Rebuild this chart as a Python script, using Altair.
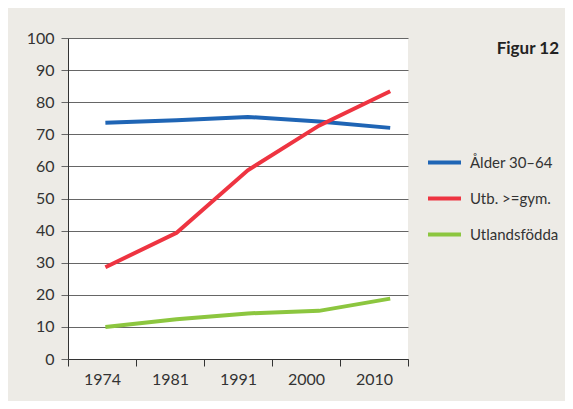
import altair as alt
import pandas as pd

years = ["1974", "1981", "1991", "2000", "2010"]
series_names = ["Ålder 30–64", "Utb. >=gym.", "Utlandsfödda"]
alder = [73.6, 74.4, 75.4, 74.0, 72.0]
utb = [28.6, 39.3, 58.8, 72.7, 83.4]
utl = [10.0, 12.4, 14.2, 15.0, 18.8]
colors = ["#1F65B5", "#EE3441", "#8CC63F"]
y_ticks = list(range(0, 101, 10))

rows = []
for name, vals in zip(series_names, [alder, utb, utl]):
    for i, (yr, v) in enumerate(zip(years, vals)):
        rows.append({"year": yr, "idx": i, "series": name, "value": v})
df = pd.DataFrame(rows)

FONT = "Lato"

axis_layer = alt.Chart(pd.DataFrame({"year": years})).mark_bar(opacity=0).encode(
    x=alt.X(
        "year:N",
        sort=years,
        scale=alt.Scale(type="band", paddingInner=0, paddingOuter=0),
        axis=alt.Axis(
            title=None,
            orient="bottom",
            tickBand="extent",
            tickSize=7,
            tickColor="#333",
            domainColor="#333",
            labelPadding=5,
            labelAngle=0,
            labelFont=FONT,
            labelFontSize=16,
            labelColor="#333",
            grid=False,
        ),
    )
)

lines = alt.Chart(df).mark_line(strokeWidth=4).encode(
    x=alt.X("idx:Q", scale=alt.Scale(domain=[-0.525, 4.25], nice=False, zero=False), axis=None),
    y=alt.Y(
        "value:Q",
        scale=alt.Scale(domain=[0, 100], nice=False),
        axis=alt.Axis(
            title=None,
            values=y_ticks,
            grid=True,
            gridColor="#666",
            gridWidth=1,
            gridOpacity=1,
            tickSize=7,
            tickColor="#666",
            domainColor="#333",
            labelPadding=7,
            labelFont=FONT,
            labelFontSize=16,
            labelColor="#333",
        ),
    ),
    color=alt.Color(
        "series:N",
        sort=series_names,
        scale=alt.Scale(domain=series_names, range=colors),
        legend=alt.Legend(
            title=None,
            orient="none",
            legendX=358,
            legendY=106,
            symbolType="stroke",
            symbolSize=1089,
            symbolStrokeWidth=4,
            labelFont=FONT,
            labelFontSize=15,
            labelColor="#333",
            labelOffset=7,
            rowPadding=9,
            padding=0,
        ),
    ),
)

fig_label = alt.Chart(pd.DataFrame({"t": ["Figur 12"]})).mark_text(
    align="right", baseline="alphabetic", font=FONT, fontSize=17, fontWeight="bold", color="#222"
).encode(text="t:N", x=alt.value(491), y=alt.value(16))

chart = (
    alt.layer(axis_layer, lines, fig_label)
    .resolve_scale(x="independent")
    .properties(
        width=340,
        height=321,
        background="#EDEBE6",
        padding={"left": 60, "top": 30, "right": 157, "bottom": 42},
        autosize=alt.AutoSizeParams(type="none"),
    )
    .configure_view(fill="white", stroke=None)
)

chart.save("out.html", embed_options={"renderer": "svg", "actions": False})
